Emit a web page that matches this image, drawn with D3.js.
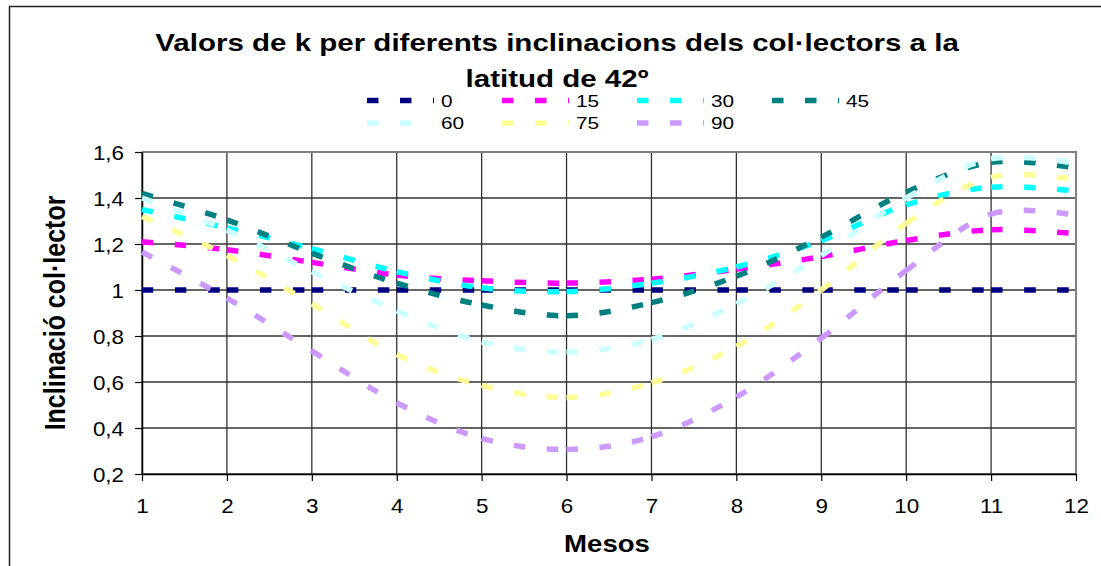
<!DOCTYPE html>
<html><head><meta charset="utf-8">
<script src="https://cdn.jsdelivr.net/npm/d3@7"></script>
<style>body{margin:0;background:#fff}svg{display:block}</style>
</head><body><svg id="c" width="1101" height="566"></svg>
<script>
const months = [1,2,3,4,5,6,7,8,9,10,11,12];
const seriesNames = ["0","15","30","45","60","75","90"];
const k0  = [1,1,1,1,1,1,1,1,1,1,1,1];
const k15 = [1.21,1.175,1.12,1.065,1.04,1.03,1.047,1.09,1.145,1.215,1.262,1.245];
const k30 = [1.35,1.27,1.18,1.08,1.01,0.993,1.03,1.10,1.215,1.37,1.447,1.43];
const k45 = [1.42,1.305,1.16,1.03,0.935,0.888,0.945,1.06,1.23,1.425,1.555,1.53];
const k60 = [1.40,1.26,1.08,0.91,0.775,0.73,0.785,0.94,1.15,1.40,1.57,1.55];
const k75 = [1.32,1.15,0.94,0.72,0.585,0.533,0.596,0.755,1.0,1.29,1.49,1.48];
const k90 = [1.165,0.965,0.735,0.51,0.355,0.307,0.362,0.535,0.79,1.085,1.33,1.325];
const seriesValues = [k0,k15,k30,k45,k60,k75,k90];
const colors = ["#000080","#FF00FF","#00FFFF","#008080","#CCFFFF","#FFFF99","#CC99FF"];
const yTicks = [0.2,0.4,0.6,0.8,1.0,1.2,1.4,1.6];
const yTickLabels = ["0,2","0,4","0,6","0,8","1","1,2","1,4","1,6"];
const xTickLabels = ["1","2","3","4","5","6","7","8","9","10","11","12"];
const titleLines = ["Valors de k per diferents inclinacions dels col·lectors a la","latitud de 42º"];
const xTitle = "Mesos";
const yTitle = "Inclinació col·lector";

const FONT = "'Liberation Sans', Arial, sans-serif";
const svg = d3.select("#c");
svg.append("rect").attr("width",1101).attr("height",566).attr("fill","#fff");
// outer chart border (cropped at right/bottom)
svg.append("path").attr("d","M9.5,566 V6.5 H1101").attr("fill","none").attr("stroke","#222").attr("stroke-width",1.5);

const x = d3.scaleLinear().domain([1,12]).range([142,1076]);
const y = d3.scaleLinear().domain([0.2,1.6]).range([474,152]);

// gridlines
const grid = svg.append("g");
grid.selectAll(".hg").data(yTicks).join("line")
  .attr("x1",x(1)).attr("x2",x(12)).attr("y1",d=>y(d)).attr("y2",d=>y(d))
  .attr("stroke","#333").attr("stroke-width",1.3);
grid.selectAll(".vg").data(months).join("line")
  .attr("y1",y(0.2)).attr("y2",y(1.6)).attr("x1",d=>x(d)).attr("x2",d=>x(d))
  .attr("stroke","#333").attr("stroke-width",1.3);
// plot area border top/right (gray)
svg.append("path").attr("d",`M${x(1)},${y(1.6)} H${x(12)} V${y(0.2)}`)
  .attr("fill","none").attr("stroke","#808080").attr("stroke-width",2);

// axes
const yAxis = svg.append("g").attr("transform",`translate(${x(1)},0)`)
  .call(d3.axisLeft(y).tickValues(yTicks).tickSize(7).tickSizeOuter(0)
    .tickFormat((d,i)=>yTickLabels[i]));
const xAxis = svg.append("g").attr("transform",`translate(0,${y(0.2)})`)
  .call(d3.axisBottom(x).tickValues(months).tickSize(7).tickSizeOuter(0)
    .tickFormat((d,i)=>xTickLabels[i]));
[yAxis,xAxis].forEach(a=>{
  a.select(".domain").attr("stroke","#000").attr("stroke-width",1.5);
  a.selectAll(".tick line").attr("stroke","#000").attr("stroke-width",1.2);
  a.selectAll("text").attr("font-family",FONT).attr("font-size",20).attr("fill","#000");
});
yAxis.selectAll("text").attr("x",0).attr("dy","0.36em").attr("text-anchor","end")
  .attr("transform","translate(-18,0) scale(1.12,1)");
xAxis.selectAll("text").attr("y",0).attr("dy",0).attr("text-anchor","middle")
  .attr("transform","translate(0,39) scale(1.12,1)");

// series lines (dash restarts at every data point, like the original)
const line = d3.line().x((d,i)=>x(months[i])).y(d=>y(d)).curve(d3.curveCardinal.tension(0));
const linesG = svg.append("g");
seriesValues.forEach((vals,si)=>{
  const p = line(vals);
  const parts = p.split("C");
  let prev = parts[0].slice(1).split(",").map(Number);
  const segs = [];
  for (let i=1;i<parts.length;i++){
    const nums = parts[i].split(",").map(Number);
    segs.push(`M${prev[0]},${prev[1]}C${parts[i]}`);
    prev = nums.slice(-2);
  }
  linesG.append("g").selectAll("path").data(segs).join("path")
    .attr("d",d=>d).attr("fill","none").attr("stroke",colors[si])
    .attr("stroke-width",5.5).attr("stroke-dasharray","11.5,21.5").attr("stroke-linecap","butt");
});

// title
svg.selectAll(".title").data(titleLines).join("text")
  .attr("text-anchor","middle").attr("font-family",FONT).attr("font-weight","bold")
  .attr("font-size",24).attr("fill","#000")
  .attr("transform",(d,i)=>`translate(557,${i===0?51:87}) scale(1.23,1)`)
  .text(d=>d);

// legend
const legend = svg.append("g");
seriesNames.forEach((name,i)=>{
  const col = i%4, row = Math.floor(i/4);
  const lx = 367 + col*135, ly = row===0 ? 100.5 : 123;
  legend.append("line").attr("x1",lx).attr("x2",lx+67).attr("y1",ly).attr("y2",ly)
    .attr("stroke",colors[i]).attr("stroke-width",5.5).attr("stroke-dasharray","11.5,21.5");
  legend.append("text").attr("font-family",FONT).attr("font-size",16).attr("fill","#000")
    .attr("transform",`translate(${lx+74},${ly+6}) scale(1.3,1)`).text(name);
});

// axis titles
svg.append("text").attr("text-anchor","middle").attr("font-family",FONT).attr("font-weight","bold")
  .attr("font-size",23).attr("transform","translate(607,552) scale(1.2,1)").text(xTitle);
svg.append("text").attr("text-anchor","middle").attr("font-family",FONT).attr("font-weight","bold")
  .attr("font-size",25).attr("transform","translate(65,313) scale(1.2,1) rotate(-90)").text(yTitle);
</script></body></html>
